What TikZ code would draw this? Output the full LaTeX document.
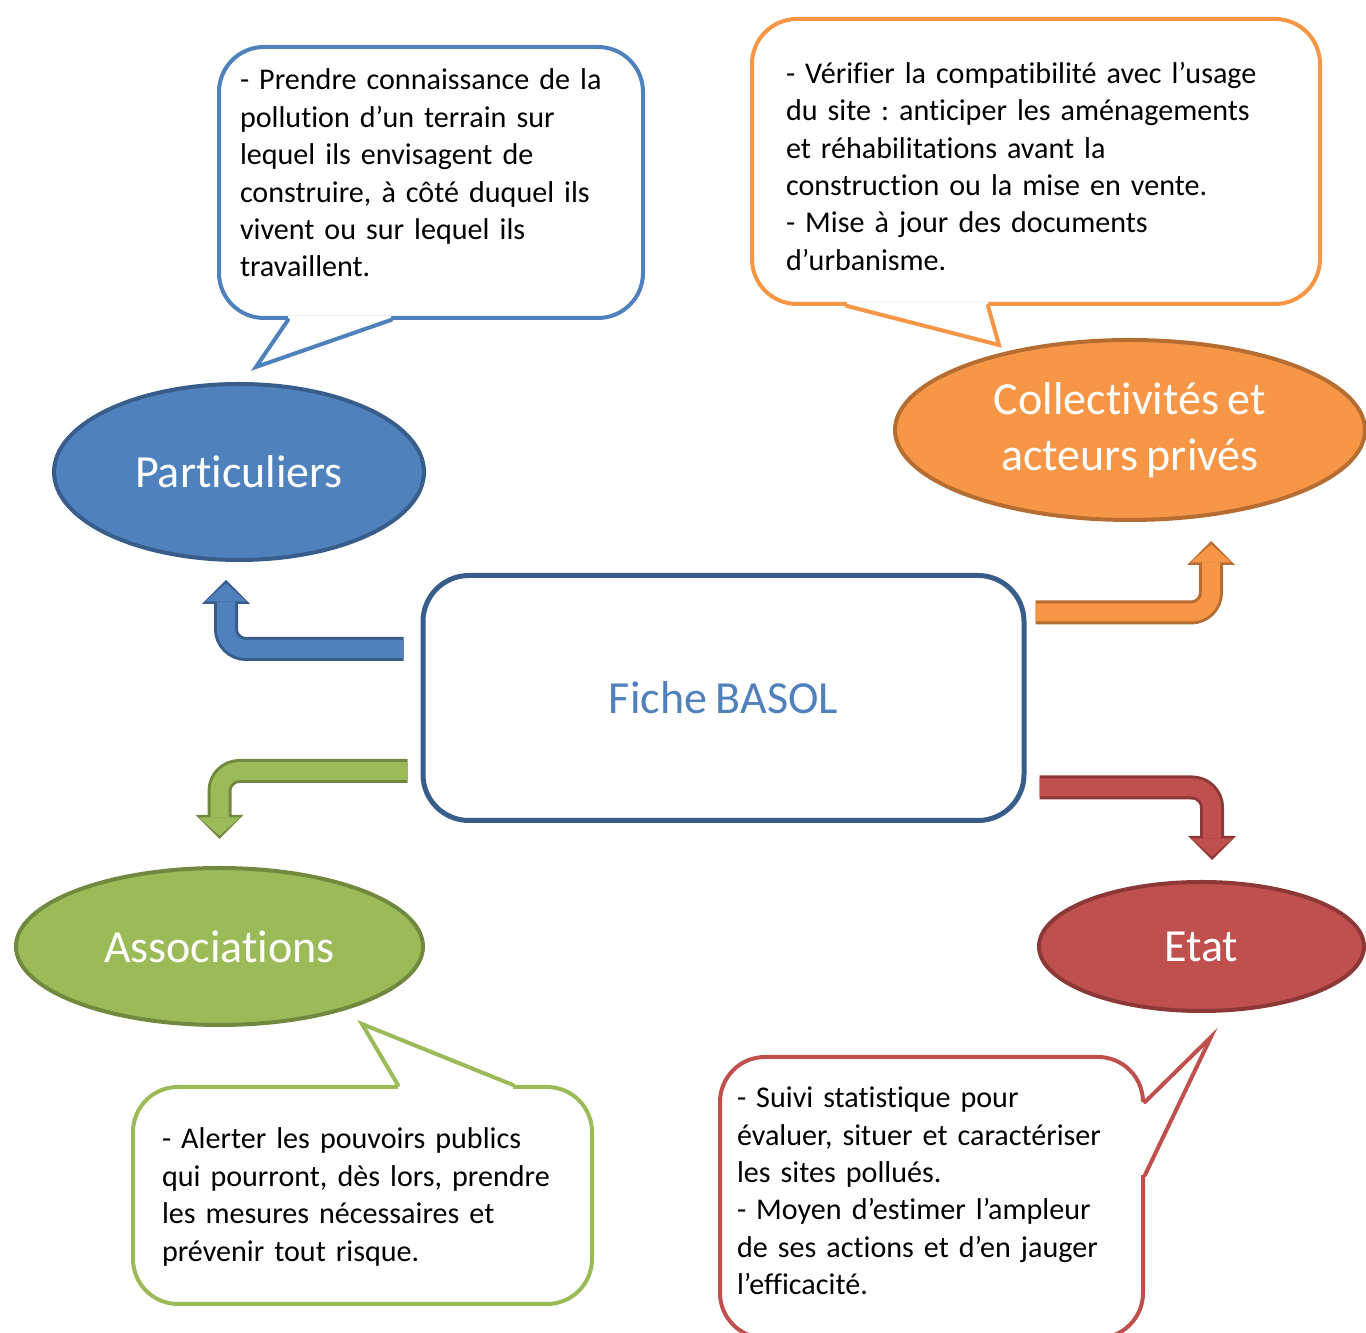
\documentclass[tikz,border=0pt]{standalone}
\usepackage{fontspec}
\setmainfont{Carlito}[WordSpace=0.85, Ligatures={NoCommon, NoContextual}]
\usepackage{tikz}
\usetikzlibrary{positioning,shapes,calc,arrows.meta}
\frenchspacing

\definecolor{partfill}{HTML}{4F81BD}
\definecolor{partline}{HTML}{385D8A}
\definecolor{collfill}{HTML}{F79646}
\definecolor{collline}{HTML}{B66D31}
\definecolor{assofill}{HTML}{9BBB59}
\definecolor{assoline}{HTML}{71893F}
\definecolor{etatfill}{HTML}{C0504D}
\definecolor{etatline}{HTML}{8C3836}

\tikzstyle{acteur}=[ellipse, line width=4pt, text=white, align=center, inner sep=0pt, font=\fontsize{46}{56}\selectfont]
\tikzstyle{bulle}=[rectangle, rounded corners=45pt, line width=4pt, fill=white]
\tikzstyle{texte}=[align=left, inner sep=0pt, outer sep=0pt, text=black, font=\fontsize{30.1}{37.4}\selectfont]
\tikzstyle{fiche}=[rectangle, rounded corners=46pt, draw=partline, line width=5pt, text=partfill, minimum width=601pt, minimum height=245pt, font=\fontsize{46}{56}\selectfont]
\tikzstyle{queue}=[line width=4pt, line cap=round, line join=miter]
\tikzset{
    fleche/.style 2 args={draw=#1, line width=18pt, rounded corners=20pt, shorten >=3.5pt,
        -{Triangle[width=41pt, length=18pt, line width=0pt, color=#1]},
        preaction={draw=#2, line width=24pt, shorten >=0pt, -{Triangle[width=48pt, length=24pt, line width=0pt, color=#2]}}}
}

\begin{document}
\begin{tikzpicture}[x=1pt, y=1pt]
    \useasboundingbox (0,0) rectangle (1366,1333);

    % les acteurs
    \node (particuliers)[acteur, fill=partfill, draw=partline, minimum width=370pt, minimum height=176pt] at (239,861) {Particuliers};
    \node (collectivites)[acteur, fill=collfill, draw=collline, minimum width=470pt, minimum height=180pt] at (1130,903) {Collectivités et\\acteurs privés};
    \node (associations)[acteur, fill=assofill, draw=assoline, minimum width=407pt, minimum height=157pt] at (219.5,386.5) {Associations};
    \node (etat)[acteur, fill=etatfill, draw=etatline, minimum width=325pt, minimum height=129pt] at (1201.5,386.5) {Etat};

    \node (basol)[fiche] at (723.5,635) {Fiche BASOL};

    % fleches
    \draw[fleche={partfill}{partline}] ($(basol.west)+(-17,49)$) -| ($(particuliers.south)+(-13,-18)$);
    \draw[fleche={collfill}{collline}] ($(basol.east)+(9,85.5)$) -| ($(collectivites.south)+(81,-19)$);
    \draw[fleche={assofill}{assoline}] ($(basol.west)+(-13,-73)$) -| ($(associations.north)+(0,27)$);
    \draw[fleche={etatfill}{etatline}] ($(basol.east)+(13,-89.5)$) -| ($(etat.north)+(10.5,20)$);

    % bulles
    \node (partNote)[bulle, draw=partfill, minimum width=424pt, minimum height=271pt] at (431,1150.5) {};
    \node (collNote)[bulle, draw=collfill, minimum width=568pt, minimum height=285pt] at (1036,1171.5) {};
    \node (assoNote)[bulle, draw=assofill, minimum width=459pt, minimum height=217pt] at (362.5,137.5) {};
    \node (etatNote)[bulle, draw=etatfill, minimum width=423pt, minimum height=281pt] at (931.5,135.5) {};

    % pointes des bulles
    \coordinate (partTip) at ($(particuliers.north)+(17,15)$);
    \coordinate (partA) at ($(partNote.south west)+(71,0)$);
    \coordinate (partB) at ($(partNote.south west)+(174,0)$);
    \fill[white] ($(partA)+(0,4)$) -- (partA) -- (partTip) -- (partB) -- ($(partB)+(0,4)$) -- cycle;
    \draw[queue, partfill] (partA) -- (partTip) -- (partB);

    \coordinate (collTip) at ($(collectivites.north)+(-131,-7)$);
    \coordinate (collA) at ($(collNote.south west)+(97,0)$);
    \coordinate (collB) at ($(collNote.south west)+(238,0)$);
    \fill[white] ($(collA)+(0,4)$) -- (collA) -- (collTip) -- (collB) -- ($(collB)+(0,4)$) -- cycle;
    \draw[queue, collfill] (collA) -- (collTip) -- (collB);

    \coordinate (assoTip) at ($(associations.south)+(142.5,3)$);
    \coordinate (assoA) at ($(assoNote.north west)+(267,0)$);
    \coordinate (assoB) at ($(assoNote.north west)+(382,0)$);
    \fill[white] ($(assoA)+(0,-4)$) -- (assoA) -- (assoTip) -- (assoB) -- ($(assoB)+(0,-4)$) -- cycle;
    \draw[queue, assofill] (assoA) -- (assoTip) -- (assoB);

    \coordinate (etatTip) at ($(etat.south)+(9.5,-24)$);
    \coordinate (etatA) at ($(etatNote.north east)+(0,-47)$);
    \coordinate (etatB) at ($(etatNote.north east)+(0,-120)$);
    \fill[white] ($(etatA)+(-4,0)$) -- (etatA) -- (etatTip) -- (etatB) -- ($(etatB)+(-4,0)$) -- cycle;
    \draw[queue, etatfill] (etatA) -- (etatTip) -- (etatB);

    % textes des bulles
    \node (partText)[texte, text width=390pt, below right=24pt and 23pt of partNote.north west] {- Prendre connaissance de la\\pollution d’un terrain sur\\lequel ils envisagent de\\construire, à côté duquel ils\\vivent ou sur lequel ils\\travaillent.};
    \node (collText)[texte, text width=520pt, below right=45pt and 36pt of collNote.north west] {- Vérifier la compatibilité avec l’usage\\du site : anticiper les aménagements\\et réhabilitations avant la\\construction ou la mise en vente.\\- Mise à jour des documents\\d’urbanisme.};
    \node (assoText)[texte, text width=420pt, below right=43pt and 31pt of assoNote.north west] {- Alerter les pouvoirs publics\\qui pourront, dès lors, prendre\\les mesures nécessaires et\\prévenir tout risque.};
    \node (etatText)[texte, text width=400pt, below right=32pt and 19pt of etatNote.north west] {- Suivi statistique pour\\évaluer, situer et caractériser\\les sites pollués.\\- Moyen d’estimer l’ampleur\\de ses actions et d’en jauger\\l’efficacité.};

\end{tikzpicture}
\end{document}
